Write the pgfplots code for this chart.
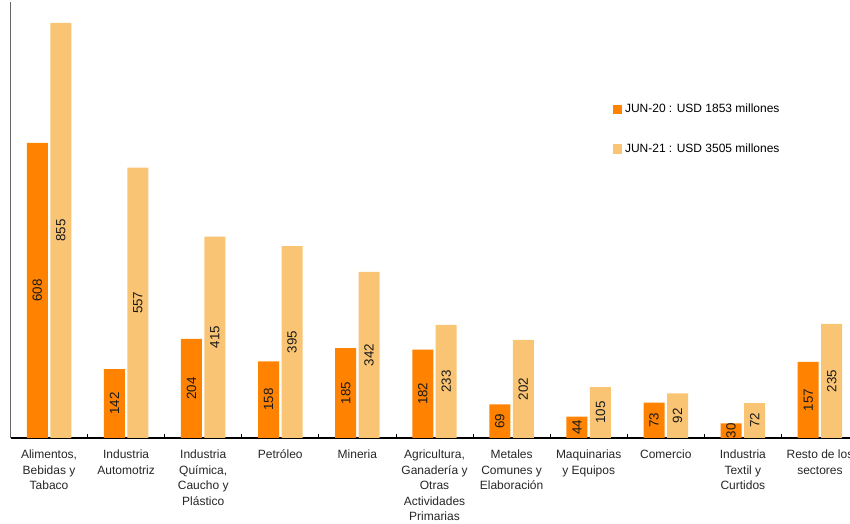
\documentclass[border=0pt]{standalone}
\usepackage{pgfplots}
\pgfplotsset{compat=1.18}
\usepackage{fontspec}
\setmainfont{Liberation Sans}
\definecolor{cA}{HTML}{FF8200}
\definecolor{cB}{HTML}{F9C473}
\begin{document}
\begin{tikzpicture}
\begin{axis}[
  scale only axis,
  width=636pt, height=327pt,
  ybar, bar width=15.75pt,
  ymin=0, ymax=898,
  xmin=-0.5, xmax=10.5,
  axis x line=bottom, axis y line=left,
  axis line style={-},
  x axis line style={black, line width=1pt},
  y axis line style={black!60, line width=1pt},
  ytick=\empty,
  xtick={0,...,10},
  major x tick style={draw=none},
  minor xtick={0.5,1.5,...,9.5},
  minor x tick style={black, line width=0.6pt},
  minor tick length=3pt,
  tick align=inside,
  /pgf/number format/assume math mode=true,
  xticklabels={{Alimentos,\\Bebidas y\\Tabaco},{Industria\\Automotriz},{Industria\\Química,\\Caucho y\\Plástico},{Petróleo},{Mineria},{Agricultura,\\Ganadería y\\Otras\\Actividades\\Primarias},{Metales\\Comunes y\\Elaboración},{Maquinarias\\y Equipos},{Comercio},{Industria\\Textil y\\Curtidos},{Resto de los\\sectores}},
  xticklabel style={align=center, font=\fontsize{9}{11.6}\selectfont, text=black!85, yshift=-5.5pt},
  nodes near coords,
  visualization depends on={y \as \rawy},
  every node near coord/.append style={yshift={-0.18207*\rawy}, rotate=90, anchor=center, font=\fontsize{10}{12}\selectfont, text=black!90},
  legend style={at={(0.7105,0.708)}, anchor=west, draw=none, fill=none, inner sep=0pt, row sep=17.5pt, font=\fontsize{9}{11}\selectfont, nodes={inner xsep=2pt}},
  legend cell align=left,
  legend image code/.code={\fill[#1] (0pt,-3.4pt) rectangle (6.8pt,3.4pt);},
]
\addplot[fill=cA, draw=none, bar shift=-8.8pt] coordinates {(0,608) (1,142) (2,204) (3,158) (4,185) (5,182) (6,69) (7,44) (8,73) (9,30) (10,157)};
\addplot[fill=cB, draw=none, bar shift=8.8pt] coordinates {(0,855) (1,557) (2,415) (3,395) (4,342) (5,233) (6,202) (7,105) (8,92) (9,72) (10,235)};
\legend{JUN-20 : USD 1853 millones, JUN-21 : USD 3505 millones}
\end{axis}
\pgfresetboundingbox
\path[use as bounding box] ([xshift=-7.875pt, yshift=-64.5pt]current axis.south west) rectangle ([xshift=-6.375pt, yshift=1.5pt]current axis.north east);
\end{tikzpicture}
\end{document}
